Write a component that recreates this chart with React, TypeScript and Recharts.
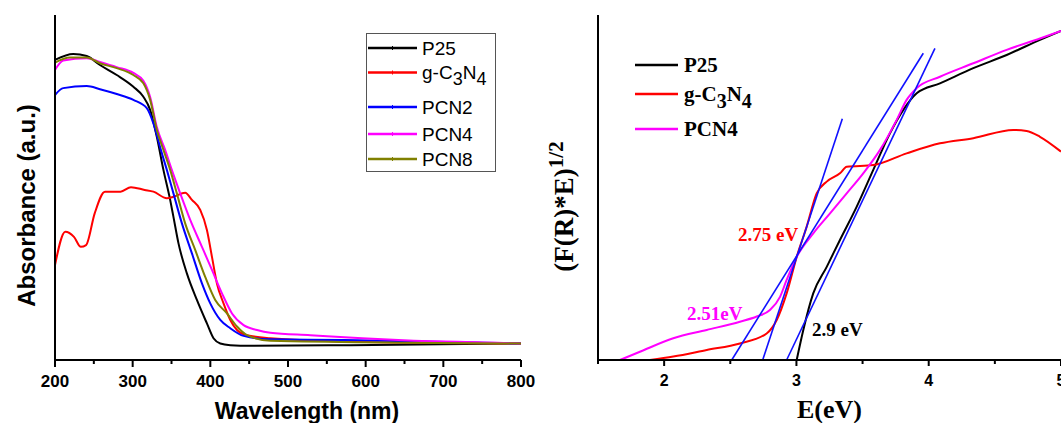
import React from 'react';
import { LineChart, Line, XAxis, YAxis, Legend, ReferenceDot } from 'recharts';

const ARIAL = "Arial, 'Liberation Sans', Helvetica, sans-serif";
const TIMES = "'Times New Roman', 'Liberation Serif', Times, serif";

// ---------- Left panel: UV-vis absorbance ----------
const wavelengthTicks = [200, 250, 300, 350, 400, 450, 500, 550, 600, 650, 700, 750, 800];
const wavelengthMajor = [200, 300, 400, 500, 600, 700, 800];
const wavelengthDomain = [200, 800];

const absNames = ['P25', 'g-C3N4', 'PCN2', 'PCN4', 'PCN8'];
const absColors = ['#000000', '#ff0000', '#0000ff', '#ff00ff', '#808000'];

const p25Nm = [200, 223.5, 240.8, 257.9, 279.5, 300.9, 313.8, 322.5, 331.1, 339.6, 348.3, 352.5, 359, 369.8, 382.7, 395.6, 404.1, 412.8, 425.7, 451.5, 580.5, 800];
const p25Abs = [0.870, 0.887, 0.881, 0.855, 0.826, 0.792, 0.763, 0.725, 0.647, 0.551, 0.464, 0.415, 0.338, 0.251, 0.174, 0.106, 0.063, 0.048, 0.043, 0.041, 0.043, 0.048];

const gcnNm = [200, 213.3, 224.4, 233.3, 240, 251.1, 264.4, 284.4, 297.8, 315.5, 326.7, 344, 352.5, 367.6, 376.3, 387, 395.6, 402.1, 408.5, 417, 425.7, 434.3, 447.2, 477.3, 580.5, 800];
const gcnAbs = [0.275, 0.372, 0.357, 0.328, 0.333, 0.425, 0.488, 0.488, 0.501, 0.493, 0.488, 0.469, 0.473, 0.485, 0.464, 0.435, 0.377, 0.299, 0.222, 0.164, 0.116, 0.087, 0.072, 0.063, 0.053, 0.048];

const pcn2Nm = [200, 210.6, 240.8, 257.9, 279.5, 300.9, 318.2, 326.7, 336.3, 344, 352.5, 363.4, 376.3, 389.2, 399.9, 412.8, 425.7, 442.8, 477.3, 573.3, 800];
const pcn2Abs = [0.768, 0.788, 0.794, 0.785, 0.771, 0.754, 0.730, 0.686, 0.609, 0.551, 0.483, 0.396, 0.309, 0.222, 0.164, 0.116, 0.092, 0.070, 0.060, 0.058, 0.048];

const pcn4Nm = [200, 210.6, 240.8, 257.9, 279.5, 300.9, 313.8, 322.5, 331.1, 341.8, 350.4, 361.2, 374.1, 389.2, 402.1, 415, 427.9, 442.8, 460.1, 477.3, 528.8, 595.5, 662, 751, 800];
const pcn4Abs = [0.841, 0.868, 0.875, 0.864, 0.849, 0.832, 0.809, 0.762, 0.675, 0.609, 0.551, 0.483, 0.406, 0.328, 0.261, 0.193, 0.135, 0.101, 0.087, 0.079, 0.072, 0.063, 0.056, 0.051, 0.048];

const pcn8Nm = [200, 219.2, 240.8, 257.9, 279.5, 300.9, 313.8, 322.5, 331.1, 339.6, 348.3, 356.9, 367.6, 380.5, 393.4, 406.3, 421.4, 434.3, 447.2, 477.3, 800];
const pcn8Abs = [0.862, 0.877, 0.877, 0.860, 0.846, 0.826, 0.802, 0.754, 0.667, 0.609, 0.551, 0.483, 0.396, 0.319, 0.241, 0.174, 0.135, 0.097, 0.072, 0.056, 0.048];

// ---------- Right panel: Tauc plot ----------
const energyTicks = [1.5, 2, 2.5, 3, 3.5, 4, 4.5, 5];
const energyMajor = [2, 3, 4, 5];
const energyDomain = [1.5, 5];

const taucNames = ['P25', 'g-C3N4', 'PCN4'];
const taucColors = ['#000000', '#ff0000', '#ff00ff'];

const taucP25E = [3.002, 3.052, 3.127, 3.229, 3.329, 3.455, 3.581, 3.707, 3.808, 3.909, 4.085, 4.337, 4.589, 4.841, 5.0];
const taucP25V = [0, 0.087, 0.193, 0.270, 0.348, 0.444, 0.551, 0.657, 0.725, 0.773, 0.802, 0.846, 0.884, 0.928, 0.954];

const taucGcnE = [1.893, 2.069, 2.322, 2.573, 2.775, 2.851, 2.926, 3.002, 3.077, 3.153, 3.229, 3.329, 3.380, 3.581, 3.833, 4.085, 4.337, 4.639, 4.740, 4.841, 5.0];
const taucGcnV = [0, 0.010, 0.029, 0.048, 0.077, 0.116, 0.193, 0.299, 0.386, 0.483, 0.517, 0.541, 0.560, 0.565, 0.599, 0.628, 0.643, 0.667, 0.664, 0.647, 0.604];

const taucPcn4E = [1.666, 1.817, 2.069, 2.322, 2.573, 2.700, 2.800, 2.876, 2.926, 3.002, 3.127, 3.254, 3.380, 3.505, 3.632, 3.758, 3.833, 3.909, 4.085, 4.337, 4.589, 4.841, 5.0];
const taucPcn4V = [0, 0.024, 0.063, 0.087, 0.111, 0.126, 0.145, 0.183, 0.232, 0.299, 0.367, 0.425, 0.483, 0.541, 0.609, 0.696, 0.754, 0.788, 0.821, 0.860, 0.899, 0.932, 0.954];

// tangent lines (band-gap extrapolations)
const tangentPcn4E = [2.511, 3.959];
const tangentPcn4V = [0, 0.889];
const tangentGcnE = [2.745, 3.347];
const tangentGcnV = [0, 0.699];
const tangentP25E = [2.926, 4.047];
const tangentP25V = [0, 0.903];

const gapLabels = ['2.75 eV', '2.51eV', '2.9 eV'];
const gapLabelE = [2.558, 2.173, 3.118];
const gapLabelV = [0.345, 0.116, 0.07];
const gapLabelColors = ['#ff0000', '#ff00ff', '#000000'];

type Pt = { x: number; y: number };
const zip = (xs: number[], ys: number[]): Pt[] => xs.map((x, i) => ({ x, y: ys[i] }));

const absSeries = [
  zip(p25Nm, p25Abs),
  zip(gcnNm, gcnAbs),
  zip(pcn2Nm, pcn2Abs),
  zip(pcn4Nm, pcn4Abs),
  zip(pcn8Nm, pcn8Abs),
];
const taucSeries = [zip(taucP25E, taucP25V), zip(taucGcnE, taucGcnV), zip(taucPcn4E, taucPcn4V)];
const tangents = [zip(tangentPcn4E, tangentPcn4V), zip(tangentGcnE, tangentGcnV), zip(tangentP25E, tangentP25V)];

// formula names like g-C3N4 get subscripts
function formula(name: string, size: number, subSize: number, shift: number) {
  if (!/^g-/.test(name)) return <tspan fontSize={size}>{name}</tspan>;
  const parts = name.split(/(\d+)/).filter((p) => p.length > 0);
  let down = false;
  return parts.map((p, i) => {
    const isSub = /^\d+$/.test(p);
    let dy = 0;
    if (isSub && !down) { dy = shift; down = true; }
    else if (!isSub && down) { dy = -shift; down = false; }
    return (
      <tspan key={i} dy={dy} fontSize={isSub ? subSize : size}>{p}</tspan>
    );
  });
}

function makeTick(major: number[], fontSize: number, majorLen: number, minorLen: number, fmt: (v: number) => string, baseline: number) {
  return (props: any) => {
    const { x, y, payload } = props;
    const v = payload.value;
    const isMajor = major.some((m) => Math.abs(m - v) < 1e-6);
    return (
      <g>
        <line x1={x} x2={x} y1={y} y2={y + (isMajor ? majorLen : minorLen)} stroke="#000" strokeWidth={2} />
        {isMajor && (
          <text x={x} y={y + baseline} textAnchor="middle" fontFamily={ARIAL} fontWeight="bold" fontSize={fontSize} fill="#000">
            {fmt(v)}
          </text>
        )}
      </g>
    );
  };
}

const LeftXTitle = (props: any) => {
  const vb = props.viewBox;
  return (
    <text x={vb.x + vb.width / 2 + 19} y={vb.y + 59} textAnchor="middle" fontFamily={ARIAL} fontWeight="bold" fontSize={23} fill="#000">
      Wavelength (nm)
    </text>
  );
};
const LeftYTitle = (props: any) => {
  const vb = props.viewBox;
  const cx = vb.x + 35;
  const cy = vb.y + vb.height / 2 + 18;
  return (
    <text x={cx} y={cy} transform={`rotate(-90 ${cx} ${cy})`} textAnchor="middle" fontFamily={ARIAL} fontWeight="bold" fontSize={24} fill="#000">
      Absorbance (a.u.)
    </text>
  );
};
const RightXTitle = (props: any) => {
  const vb = props.viewBox;
  return (
    <text x={vb.x + vb.width / 2} y={vb.y + 58} textAnchor="middle" fontFamily={TIMES} fontWeight="bold" fontSize={26} fill="#000">
      E(eV)
    </text>
  );
};
const RightYTitle = (props: any) => {
  const vb = props.viewBox;
  const cx = vb.x + 33;
  const cy = vb.y + vb.height / 2 + 19;
  return (
    <text x={cx} y={cy} transform={`rotate(-90 ${cx} ${cy})`} textAnchor="middle" fontFamily={TIMES} fontWeight="bold" fontSize={27} fill="#000">
      <tspan>(F(R)*E)</tspan>
      <tspan dy={-10} fontSize={21}>1/2</tspan>
    </text>
  );
};

const GapLabel = (props: any) => {
  const vb = props.viewBox;
  return (
    <text x={vb.x} y={vb.y} textAnchor="start" fontFamily={TIMES} fontWeight="bold" fontSize={19} fill={props.color}>
      {props.text}
    </text>
  );
};

const LeftLegend = () => {
  const rowY = [15, 39.5, 74, 101, 126];
  return (
    <svg width={131} height={140} style={{ display: 'block' }}>
      <rect x={0.5} y={0.5} width={129} height={138} fill="#fff" stroke="#555" strokeWidth={1} />
      {absNames.map((n, i) => (
        <g key={n}>
          <line x1={2} x2={51} y1={rowY[i]} y2={rowY[i]} stroke={absColors[i]} strokeWidth={2.5} />
          <line x1={26.5} x2={26.5} y1={rowY[i] - 2} y2={rowY[i] + 2} stroke={absColors[i]} strokeWidth={1} />
          <text x={56} y={rowY[i] + 6.5} fontFamily={ARIAL} fontSize={19} fill="#000">
            {formula(n, 19, 18, 6)}
          </text>
        </g>
      ))}
    </svg>
  );
};

const RightLegend = () => {
  const rowY = [15, 44, 79];
  return (
    <svg width={160} height={100} style={{ display: 'block' }}>
      {taucNames.map((n, i) => (
        <g key={n}>
          <line x1={0} x2={43} y1={rowY[i]} y2={rowY[i]} stroke={taucColors[i]} strokeWidth={2.5} />
          <text x={49} y={rowY[i] + 7} fontFamily={TIMES} fontWeight="bold" fontSize={21} fill="#000">
            {formula(n, 21, 20, 7)}
          </text>
        </g>
      ))}
    </svg>
  );
};

const leftTick = makeTick(wavelengthMajor, 17, 7, 4, (v) => String(v), 26.5);
const rightTick = makeTick(energyMajor, 16, 6, 4, (v) => String(v), 26);

export default function App() {
  return (
    <div style={{ position: 'absolute', left: 0, top: 0, width: 1061, height: 423, overflow: 'hidden', background: '#fff' }}>
      <div style={{ position: 'absolute', left: 0, top: 0 }}>
        <LineChart width={540} height={423} margin={{ top: 15, right: 19, bottom: 0, left: 0 }}>
          <XAxis
            dataKey="x"
            type="number"
            domain={wavelengthDomain}
            ticks={wavelengthTicks}
            interval={0}
            allowDataOverflow
            height={63}
            tickSize={0}
            tickMargin={0}
            tickLine={false}
            tick={leftTick}
            axisLine={{ stroke: '#000', strokeWidth: 2 }}
            label={<LeftXTitle />}
          />
          <XAxis xAxisId="top" orientation="top" dataKey="x" type="number" domain={wavelengthDomain} height={0} tick={false} tickLine={false} axisLine={{ stroke: '#000', strokeWidth: 2 }} />
          <YAxis
            type="number"
            domain={[0, 1]}
            width={55}
            tick={false}
            tickLine={false}
            axisLine={{ stroke: '#000', strokeWidth: 2 }}
            label={<LeftYTitle />}
          />
          <YAxis yAxisId="right" orientation="right" type="number" domain={[0, 1]} width={0} tick={false} tickLine={false} axisLine={{ stroke: '#000', strokeWidth: 2 }} />
          {absSeries.map((d, i) => (
            <Line
              key={absNames[i]}
              data={d}
              dataKey="y"
              name={absNames[i]}
              type="monotone"
              stroke={absColors[i]}
              strokeWidth={2}
              dot={false}
              activeDot={false}
              isAnimationActive={false}
            />
          ))}
          <Legend
            layout="vertical"
            align="center"
            verticalAlign="middle"
            content={() => <LeftLegend />}
            wrapperStyle={{ left: 366, top: 33, width: 131, height: 140 }}
          />
        </LineChart>
      </div>
      <div style={{ position: 'absolute', left: 540, top: 0 }}>
        <LineChart width={521} height={423} margin={{ top: 15, right: 0, bottom: 0, left: 0 }}>
          <XAxis
            dataKey="x"
            type="number"
            domain={energyDomain}
            ticks={energyTicks}
            interval={0}
            allowDataOverflow
            height={63}
            tickSize={0}
            tickMargin={0}
            tickLine={false}
            tick={rightTick}
            axisLine={{ stroke: '#000', strokeWidth: 2 }}
            label={<RightXTitle />}
          />
          <XAxis xAxisId="top" orientation="top" dataKey="x" type="number" domain={energyDomain} height={0} tick={false} tickLine={false} axisLine={{ stroke: '#000', strokeWidth: 2 }} />
          <YAxis
            type="number"
            domain={[0, 1]}
            width={58}
            tick={false}
            tickLine={false}
            axisLine={{ stroke: '#000', strokeWidth: 2 }}
            label={<RightYTitle />}
          />
          <YAxis yAxisId="right" orientation="right" type="number" domain={[0, 1]} width={0} tick={false} tickLine={false} axisLine={{ stroke: '#000', strokeWidth: 2 }} />
          {taucSeries.map((d, i) => (
            <Line
              key={taucNames[i]}
              data={d}
              dataKey="y"
              name={taucNames[i]}
              type="monotone"
              stroke={taucColors[i]}
              strokeWidth={2}
              dot={false}
              activeDot={false}
              isAnimationActive={false}
            />
          ))}
          {tangents.map((d, i) => (
            <Line
              key={'tangent' + i}
              data={d}
              dataKey="y"
              type="linear"
              stroke="#1010ff"
              strokeWidth={1.6}
              dot={false}
              activeDot={false}
              legendType="none"
              isAnimationActive={false}
            />
          ))}
          {gapLabels.map((t, i) => (
            <ReferenceDot
              key={t}
              x={gapLabelE[i]}
              y={gapLabelV[i]}
              r={0}
              fill="none"
              stroke="none"
              label={<GapLabel text={t} color={gapLabelColors[i]} />}
            />
          ))}
          <Legend
            layout="vertical"
            align="center"
            verticalAlign="middle"
            content={() => <RightLegend />}
            wrapperStyle={{ left: 95, top: 50, width: 160, height: 100 }}
          />
        </LineChart>
      </div>
    </div>
  );
}
